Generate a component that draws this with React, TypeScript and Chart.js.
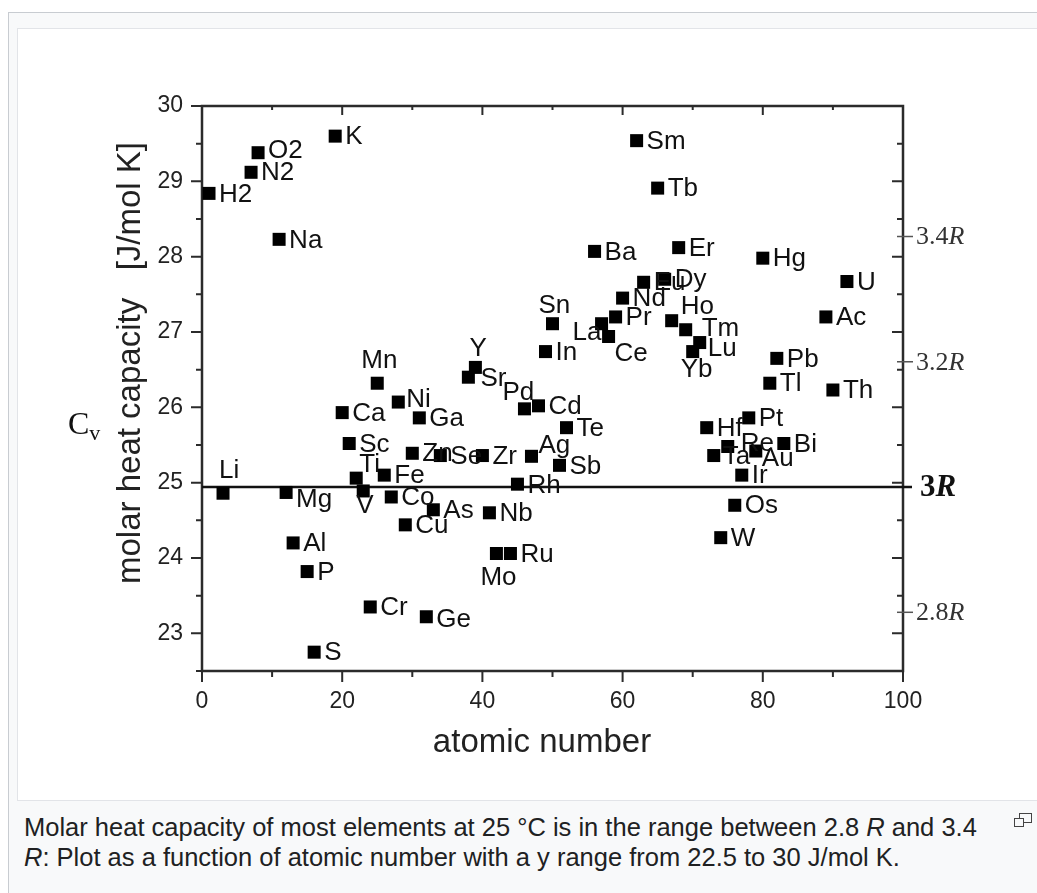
import React, { useEffect, useRef } from 'react';
import { Chart, registerables } from 'chart.js';

Chart.register(...registerables);

// ---------------- data ----------------
const elements = [
  'H2', 'Li', 'N2', 'O2', 'Na', 'Mg', 'Al', 'P', 'S', 'K', 'Ca', 'Sc', 'Ti', 'V', 'Cr', 'Mn', 'Fe', 'Co', 'Ni', 'Cu',
  'Zn', 'Ga', 'Ge', 'As', 'Se', 'Sr', 'Y', 'Zr', 'Nb', 'Mo', 'Ru', 'Rh', 'Pd', 'Ag', 'Cd', 'In', 'Sn', 'Sb', 'Te',
  'Ba', 'La', 'Ce', 'Pr', 'Nd', 'Sm', 'Eu', 'Tb', 'Dy', 'Ho', 'Er', 'Tm', 'Yb', 'Lu', 'Hf', 'Ta', 'W', 'Re', 'Os',
  'Ir', 'Pt', 'Au', 'Hg', 'Tl', 'Pb', 'Bi', 'Ac', 'Th', 'U',
];
const atomicNumbers = [
  1, 3, 7, 8, 11, 12, 13, 15, 16, 19, 20, 21, 22, 23, 24, 25, 26, 27, 28, 29,
  30, 31, 32, 33, 34, 38, 39, 40, 41, 42, 44, 45, 46, 47, 48, 49, 50, 51, 52,
  56, 57, 58, 59, 60, 62, 63, 65, 66, 67, 68, 69, 70, 71, 72, 73, 74, 75, 76,
  77, 78, 79, 80, 81, 82, 83, 89, 90, 92,
];
const heatCapacities = [
  28.84, 24.86, 29.12, 29.38, 28.23, 24.87, 24.2, 23.82, 22.75, 29.6, 25.93, 25.52, 25.06, 24.89, 23.35, 26.32, 25.1, 24.81, 26.07, 24.44,
  25.39, 25.86, 23.22, 24.64, 25.36, 26.4, 26.53, 25.36, 24.6, 24.06, 24.06, 24.98, 25.98, 25.35, 26.02, 26.74, 27.11, 25.23, 25.73,
  28.07, 27.11, 26.94, 27.2, 27.45, 29.54, 27.66, 28.91, 27.7, 27.15, 28.12, 27.03, 26.74, 26.86, 25.73, 25.36, 24.27, 25.48, 24.7,
  25.1, 25.86, 25.42, 27.98, 26.32, 26.65, 25.52, 27.2, 26.23, 27.67,
];

const xTickValues = [0, 20, 40, 60, 80, 100];
const xMinorTickValues = [10, 30, 50, 70, 90];
const yTickValues = [23, 24, 25, 26, 27, 28, 29, 30];
const yMinorTickValues = [22.5, 23.5, 24.5, 25.5, 26.5, 27.5, 28.5, 29.5];
const gasConstant = 8.314;
const rMultiples = [2.8, 3.2, 3.4];
const rMultipleLabels = ['2.8', '3.2', '3.4'];
const dulongPetitMultiple = 3;

// label placement (offset of label's left edge / vertical centre from the marker)
const defaultLabelOffset: [number, number] = [10, 1];
const labelOffsets: Record<string, [number, number]> = {
  Li: [-4, -22], Mg: [10, 7], V: [-7, 15], Ti: [3, -13], Mn: [-16, -22], Ni: [8, -2],
  Y: [-6, -19], Sr: [12, 2], Pd: [-22, -16], Ag: [7, -10], Mo: [-16, 24], Sn: [-14, -18],
  La: [-29, 9], Ce: [6, 17], Ho: [9, -14], Tm: [16, -1], Lu: [8, 6], Yb: [-12, 18],
  Re: [13, -3], Au: [6, 8], Ta: [9, 1], Rh: [10, 2], Ge: [10, 3], O2: [10, -2],
};

// ---------------- layout ----------------
const CANVAS_LEFT = 18;
const CANVAS_TOP = 29;
const CANVAS_W = 1019;
const CANVAS_H = 771;
const PLOT_LEFT = 184;
const PLOT_TOP = 77;
const PLOT_RIGHT = 885;
const PLOT_BOTTOM = 642;

const SANS = '"Liberation Sans", Arial, Helvetica, sans-serif';
const SERIF = '"Liberation Serif", "Times New Roman", serif';
const INK = '#111';
const AXIS = '#2b2b2b';

const decorPlugin = {
  id: 'decor',
  beforeDatasetsDraw(chart: any) {
    const { ctx, chartArea: a, scales } = chart;
    const xs = scales.x;
    const ys = scales.y;
    ctx.save();
    ctx.strokeStyle = AXIS;
    ctx.lineWidth = 2.5;
    ctx.strokeRect(a.left, a.top, a.right - a.left, a.bottom - a.top);

    ctx.lineWidth = 2;
    const major = 11;
    const minor = 6;
    // left (outward) & right (inward) ticks
    const yTick = (v: number, len: number) => {
      const y = ys.getPixelForValue(v);
      ctx.beginPath();
      ctx.moveTo(a.left - len, y);
      ctx.lineTo(a.left, y);
      ctx.moveTo(a.right - len, y);
      ctx.lineTo(a.right, y);
      ctx.stroke();
    };
    yTickValues.forEach((v) => yTick(v, major));
    yMinorTickValues.forEach((v) => yTick(v, minor));
    // bottom (outward) & top (inward) ticks
    const xTick = (v: number, len: number) => {
      const x = xs.getPixelForValue(v);
      ctx.beginPath();
      ctx.moveTo(x, a.bottom);
      ctx.lineTo(x, a.bottom + len);
      ctx.moveTo(x, a.top);
      ctx.lineTo(x, a.top + len - 2);
      ctx.stroke();
    };
    xTickValues.forEach((v) => xTick(v, major));
    xMinorTickValues.forEach((v) => xTick(v, minor));

    // R ticks on the right axis
    ctx.lineWidth = 1.5;
    ctx.strokeStyle = '#555';
    rMultiples.forEach((m) => {
      const y = ys.getPixelForValue(m * gasConstant);
      ctx.beginPath();
      ctx.moveTo(a.right - 6, y);
      ctx.lineTo(a.right + 10, y);
      ctx.stroke();
    });

    // 3R line
    const y3 = ys.getPixelForValue(dulongPetitMultiple * gasConstant);
    ctx.strokeStyle = '#111';
    ctx.lineWidth = 2.5;
    ctx.beginPath();
    ctx.moveTo(a.left, y3);
    ctx.lineTo(a.right + 9, y3);
    ctx.stroke();
    ctx.restore();
  },
  afterDatasetsDraw(chart: any) {
    const { ctx, chartArea: a, scales } = chart;
    const ys = scales.y;
    const meta = chart.getDatasetMeta(0);
    ctx.save();
    // point labels
    ctx.fillStyle = INK;
    ctx.font = `26px ${SANS}`;
    ctx.textAlign = 'left';
    ctx.textBaseline = 'middle';
    meta.data.forEach((pt: any, i: number) => {
      const name = elements[i];
      const [dx, dy] = labelOffsets[name] || defaultLabelOffset;
      ctx.fillText(name, pt.x + dx, pt.y + dy);
    });

    // R labels (serif, R italic)
    ctx.fillStyle = '#333';
    rMultiples.forEach((m, i) => {
      const y = ys.getPixelForValue(m * gasConstant);
      ctx.font = `26px ${SERIF}`;
      const t = rMultipleLabels[i];
      const x0 = a.right + 13;
      ctx.fillText(t, x0, y + 1);
      const w = ctx.measureText(t).width;
      ctx.font = `italic 26px ${SERIF}`;
      ctx.fillText('R', x0 + w, y + 1);
    });
    {
      const y = ys.getPixelForValue(dulongPetitMultiple * gasConstant);
      ctx.fillStyle = '#111';
      ctx.font = `bold 31px ${SERIF}`;
      const x0 = a.right + 17;
      ctx.fillText(String(dulongPetitMultiple), x0, y + 1);
      const w = ctx.measureText(String(dulongPetitMultiple)).width;
      ctx.font = `bold italic 31px ${SERIF}`;
      ctx.fillText('R', x0 + w, y + 1);
    }

    // axis titles
    ctx.fillStyle = '#222';
    ctx.font = `33px ${SANS}`;
    ctx.textAlign = 'center';
    ctx.textBaseline = 'middle';
    ctx.fillText('atomic number', 542 - CANVAS_LEFT, 743 - CANVAS_TOP);
    ctx.save();
    ctx.translate(131 - CANVAS_LEFT, 363 - CANVAS_TOP);
    ctx.rotate(-Math.PI / 2);
    ctx.fillText('molar heat capacity   [J/mol K]', 0, 0);
    ctx.restore();
    ctx.restore();
  },
};

export default function App() {
  const canvasRef = useRef<HTMLCanvasElement | null>(null);

  useEffect(() => {
    if (!canvasRef.current) return;
    const points = atomicNumbers.map((n, i) => ({ x: n, y: heatCapacities[i] }));
    const chart = new Chart(canvasRef.current, {
      type: 'scatter',
      data: {
        datasets: [
          {
            label: 'molar heat capacity',
            data: points,
            pointStyle: 'rect',
            pointRadius: 9.2,
            pointHoverRadius: 9.2,
            backgroundColor: '#000',
            borderColor: '#000',
            borderWidth: 0,
            clip: false,
          } as any,
        ],
      },
      options: {
        responsive: false,
        animation: false,
        events: [],
        layout: { padding: { left: 0, top: PLOT_TOP, right: CANVAS_W - PLOT_RIGHT, bottom: 0 } },
        plugins: { legend: { display: false }, tooltip: { enabled: false }, title: { display: false } },
        scales: {
          x: {
            type: 'linear',
            position: 'bottom',
            min: 0,
            max: 100,
            afterBuildTicks: (s: any) => {
              s.ticks = xTickValues.map((v) => ({ value: v }));
            },
            afterFit: (s: any) => {
              s.height = CANVAS_H - PLOT_BOTTOM;
            },
            grid: { display: false, drawTicks: false },
            border: { display: false },
            ticks: {
              font: { family: SANS, size: 23 },
              color: '#222',
              padding: 17,
              maxRotation: 0,
              autoSkip: false,
            },
          },
          y: {
            type: 'linear',
            position: 'left',
            min: 22.5,
            max: 30,
            afterBuildTicks: (s: any) => {
              s.ticks = yTickValues.map((v) => ({ value: v }));
            },
            afterFit: (s: any) => {
              s.width = PLOT_LEFT;
            },
            grid: { display: false, drawTicks: false },
            border: { display: false },
            ticks: {
              font: { family: SANS, size: 23 },
              color: '#222',
              padding: 19,
              autoSkip: false,
            },
          },
        },
      },
      plugins: [decorPlugin],
    });
    return () => chart.destroy();
  }, []);

  return (
    <div style={{ position: 'absolute', left: 0, top: 0, width: 1037, height: 893, overflow: 'hidden', background: '#fff' }}>
      <div
        style={{
          position: 'absolute', left: 8, top: 12, width: 1060, height: 900,
          background: '#f8f9fa', border: '1px solid #c8ccd1', boxSizing: 'border-box',
        }}
      />
      <div
        style={{
          position: 'absolute', left: 17, top: 28, width: 1050, height: 773,
          background: '#fff', border: '1px solid #e2e4e8', boxSizing: 'border-box',
        }}
      />
      <canvas
        ref={canvasRef}
        width={CANVAS_W}
        height={CANVAS_H}
        style={{ position: 'absolute', left: CANVAS_LEFT, top: CANVAS_TOP, width: CANVAS_W, height: CANVAS_H }}
      />
      <div
        style={{
          position: 'absolute', left: 68, top: 407, fontFamily: SERIF, fontSize: 32, color: '#111', lineHeight: 1,
        }}
      >
        C<sub style={{ fontSize: 22, verticalAlign: 'baseline', position: 'relative', top: 6 }}>v</sub>
      </div>
      <div
        style={{
          position: 'absolute', left: 24, top: 812, fontFamily: SANS, fontSize: 25.5, color: '#202122',
          lineHeight: '30px', whiteSpace: 'nowrap',
        }}
      >
        <div>Molar heat capacity of most elements at 25 °C is in the range between 2.8 <i>R</i> and 3.4</div>
        <div><i>R</i>: Plot as a function of atomic number with a y range from 22.5 to 30 J/mol K.</div>
      </div>
      <div style={{ position: 'absolute', left: 1019, top: 813, width: 11, height: 8, border: '1.5px solid #444', background: '#f8f9fa' }} />
      <div style={{ position: 'absolute', left: 1014, top: 818, width: 8, height: 7, border: '1.5px solid #444', background: '#f8f9fa' }} />
    </div>
  );
}
